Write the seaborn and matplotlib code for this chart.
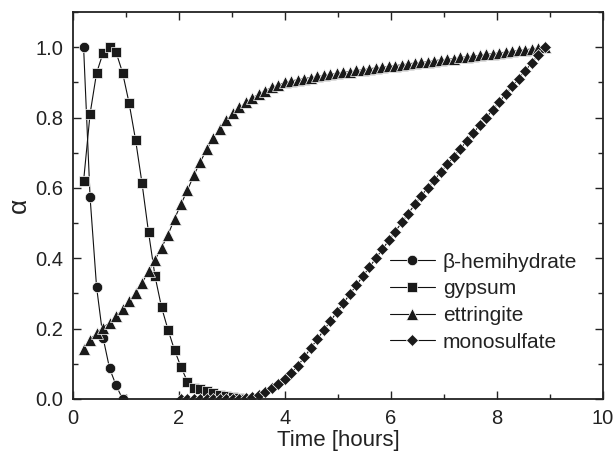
import numpy as np
import pandas as pd
import matplotlib
matplotlib.use("Agg")
import matplotlib.pyplot as plt
from matplotlib.ticker import MultipleLocator
import seaborn as sns

# sampling times [hours]
time = [0.2, 0.3225, 0.445, 0.5675, 0.69, 0.8125, 0.935, 1.0575, 1.18, 1.3025,
        1.425, 1.5475, 1.67, 1.7925, 1.915, 2.0375, 2.16, 2.2825, 2.405, 2.5275,
        2.65, 2.7725, 2.895, 3.0175, 3.14, 3.2625, 3.385, 3.5075, 3.63, 3.7525,
        3.875, 3.9975, 4.12, 4.2425, 4.365, 4.4875, 4.61, 4.7325, 4.855, 4.9775,
        5.1, 5.2225, 5.345, 5.4675, 5.59, 5.7125, 5.835, 5.9575, 6.08, 6.2025,
        6.325, 6.4475, 6.57, 6.6925, 6.815, 6.9375, 7.06, 7.1825, 7.305, 7.4275,
        7.55, 7.6725, 7.795, 7.9175, 8.04, 8.1625, 8.285, 8.4075, 8.53, 8.6525,
        8.775, 8.8975]

hemihydrate = [1.0, 0.573, 0.318, 0.174, 0.087, 0.039, 0.0]

gypsum = [0.62, 0.811, 0.927, 0.984, 1.0, 0.986, 0.928, 0.842, 0.737, 0.613,
          0.474, 0.349, 0.261, 0.197, 0.139, 0.091, 0.049, 0.032, 0.027, 0.022,
          0.018, 0.012, 0.008, 0.005, 0.003, 0.001, 0.0]

ettringite = [0.143, 0.169, 0.188, 0.203, 0.217, 0.235, 0.255, 0.278, 0.301, 0.330,
              0.363, 0.396, 0.430, 0.467, 0.512, 0.554, 0.594, 0.637, 0.675, 0.711,
              0.743, 0.769, 0.792, 0.812, 0.829, 0.843, 0.856, 0.867, 0.877, 0.886,
              0.893, 0.900, 0.904, 0.908, 0.911, 0.914, 0.917, 0.920, 0.923, 0.926,
              0.929, 0.931, 0.934, 0.936, 0.939, 0.941, 0.943, 0.946, 0.948, 0.950,
              0.953, 0.955, 0.957, 0.959, 0.962, 0.964, 0.966, 0.968, 0.971, 0.973,
              0.975, 0.977, 0.980, 0.982, 0.984, 0.986, 0.989, 0.991, 0.993, 0.995,
              0.998, 1.000]

# monosulfate starts at time[15]
mono_start = 15
monosulfate = [0.0, 0.0, 0.0, 0.0, 0.0, 0.0, 0.0, 0.0, 0.0, 0.0,
               0.002, 0.006, 0.012, 0.020, 0.030, 0.042, 0.056, 0.074, 0.095, 0.119,
               0.145, 0.170, 0.196, 0.221, 0.247, 0.272, 0.298, 0.323, 0.349, 0.374,
               0.400, 0.425, 0.451, 0.476, 0.502, 0.527, 0.553, 0.578, 0.600, 0.622,
               0.645, 0.667, 0.689, 0.711, 0.733, 0.756, 0.778, 0.800, 0.822, 0.844,
               0.867, 0.889, 0.911, 0.933, 0.955, 0.978, 1.000]

labels = ["β-hemihydrate", "gypsum", "ettringite", "monosulfate"]
markers = ["o", "s", "^", "D"]
msizes = [7.5, 7, 8.5, 6.5]

sns.set_style("ticks")
plt.rcParams["font.family"] = ["Liberation Sans", "DejaVu Sans"]

fig = plt.figure(figsize=(6.16, 4.65), dpi=100)
ax = fig.add_axes([0.1185, 0.142, 0.8605, 0.832])

series = [
    (time[:len(hemihydrate)], hemihydrate),
    (time[:len(gypsum)], gypsum),
    (time, ettringite),
    (time[mono_start:mono_start + len(monosulfate)], monosulfate),
]

for (xs, ys), lab, mk, ms in zip(series, labels, markers, msizes):
    df = pd.DataFrame({"t": xs, "a": ys})
    sns.lineplot(data=df, x="t", y="a", ax=ax, color="#111111", linewidth=0.8,
                 marker=mk, markersize=ms, markerfacecolor="#1a1a1a",
                 markeredgecolor="white", markeredgewidth=0.5, label=lab,
                 sort=False, estimator=None)

ax.set_xlim(0, 10)
ax.set_ylim(0, 1.1)
ax.xaxis.set_major_locator(MultipleLocator(2))
ax.xaxis.set_minor_locator(MultipleLocator(1))
ax.yaxis.set_minor_locator(MultipleLocator(0.1))
ax.set_yticks([0, 0.2, 0.4, 0.6, 0.8, 1.0])
ax.set_yticklabels(["0.0", "0.2", "0.4", "0.6", "0.8", "1.0"])
ax.tick_params(which="both", direction="in", top=True, right=True,
               labelsize=14.5, colors="#222222", width=1.0, pad=7)
ax.tick_params(which="major", length=6)
ax.tick_params(which="minor", length=3.5)
for sp in ax.spines.values():
    sp.set_linewidth(1.3)
    sp.set_color("#222222")

ax.set_xlabel("Time [hours]", fontsize=16, color="#222222", labelpad=2)
ax.set_ylabel("α", fontsize=19, color="#222222", labelpad=3)

leg = ax.legend(loc="upper left", bbox_to_anchor=(0.582, 0.40), frameon=False,
                fontsize=15, handlelength=2.15, labelspacing=0.37,
                handletextpad=0.4, borderaxespad=0)
for t in leg.get_texts():
    t.set_color("#222222")

fig.savefig("out.png", dpi=100)
